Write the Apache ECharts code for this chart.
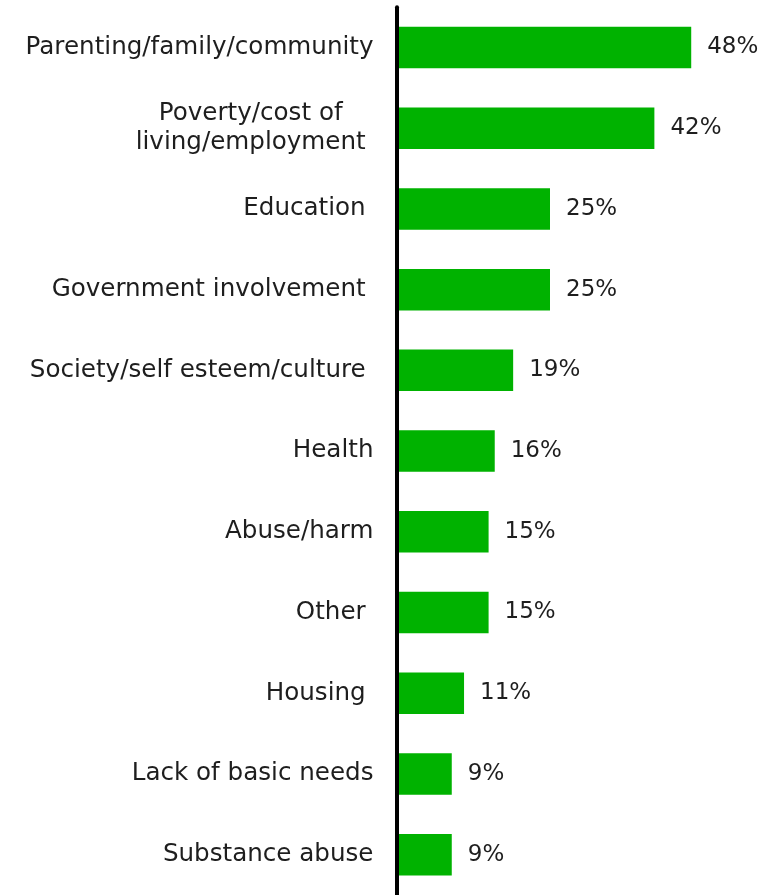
<!DOCTYPE html>
<html>
<head>
<meta charset="utf-8">
<script src="https://cdn.jsdelivr.net/npm/echarts@6/dist/echarts.min.js"></script>
<style>
  html, body { margin: 0; padding: 0; background: #ffffff; }
  #chart { width: 778px; height: 895px; }
</style>
</head>
<body>
<div id="chart"></div>
<script>
// Reasons cited, share of responses (%)
const categories = [
  'Parenting/family/community',
  'Poverty/cost of \nliving/employment ',
  'Education ',
  'Government involvement ',
  'Society/self esteem/culture ',
  'Health',
  'Abuse/harm',
  'Other ',
  'Housing ',
  'Lack of basic needs',
  'Substance abuse'
];
const values = [48, 42, 25, 25, 19, 16, 15, 15, 11, 9, 9];

const FONT = 'DejaVu Sans';
const TEXT_COLOR = '#1e1e1e';
const LABEL_SIZE = 24.6;

const chart = echarts.init(document.getElementById('chart'), null, { renderer: 'canvas' });

chart.setOption({
  animation: false,
  backgroundColor: '#ffffff',
  grid: { left: 396.5, top: 7.15, width: 368.4, height: 892.2, containLabel: false },
  xAxis: {
    type: 'value',
    min: 0,
    max: 60,
    show: false
  },
  yAxis: {
    type: 'category',
    data: categories,
    inverse: true,
    z: 5,
    axisLine: { show: true, lineStyle: { color: '#000000', width: 4 } },
    axisTick: { show: false },
    splitLine: { show: false },
    axisLabel: {
      margin: 23,
      fontFamily: FONT,
      fontSize: LABEL_SIZE,
      color: TEXT_COLOR,
      lineHeight: 29,
      formatter: function (v) {
        if (v.indexOf('\n') < 0) return v;
        // multi-line labels: each line centred within the label block
        return v.split('\n').map(function (s) { return '{c|' + s + '}'; }).join('\n');
      },
      rich: {
        c: { align: 'center', fontFamily: FONT, fontSize: LABEL_SIZE, color: TEXT_COLOR, lineHeight: 29 }
      }
    }
  },
  series: [{
    type: 'bar',
    data: values,
    barWidth: 41.5,
    itemStyle: { color: '#00b200' },
    label: {
      show: true,
      position: 'right',
      distance: 16,
      fontFamily: FONT,
      fontSize: 23,
      color: TEXT_COLOR,
      formatter: '{c}%'
    }
  }]
});
</script>
</body>
</html>
